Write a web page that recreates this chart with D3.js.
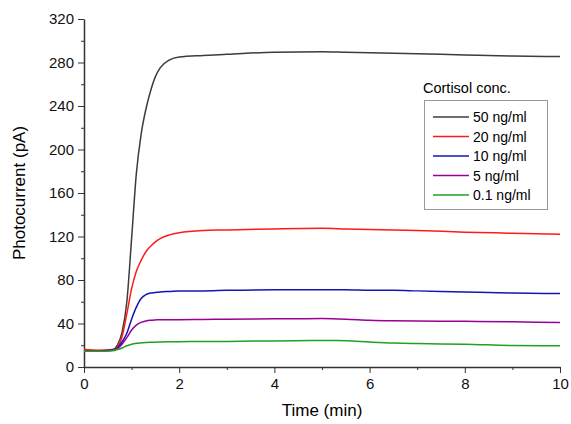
<!DOCTYPE html>
<html>
<head>
<meta charset="UTF-8">
<title>Photocurrent vs time</title>
<script src="https://cdnjs.cloudflare.com/ajax/libs/d3/7.8.5/d3.min.js"></script>
<style>
    body { margin: 0; background: #fff; font-family: "Liberation Sans", Arial, sans-serif; }
    .axis path, .axis line { stroke: #333; }
    .axis text { font-size: 15px; fill: #111; }
</style>
</head>
<body>
<div id="chart"></div>
<script>
// time points (min)
const times = [0, 0.3, 0.6, 0.7, 0.8, 0.9, 1.0, 1.1, 1.2, 1.3, 1.4, 1.5, 1.6, 1.8, 2.0, 2.5, 3, 4, 5, 5.5, 6, 6.5, 7, 8, 9, 10];

// photocurrent (pA) per cortisol concentration
const conc50  = [15, 15, 16, 20, 32, 60, 118, 178, 214, 237, 254, 267, 275, 282.5, 285, 286.5, 287.5, 289.5, 290, 289.5, 289, 288.5, 288, 287, 286, 285.5];
const conc20  = [16, 15.5, 15.5, 18, 28, 49, 72, 88, 98, 106, 111, 115, 118, 121.5, 123.5, 125.5, 126, 127, 127.5, 127, 126.5, 126, 125.5, 124, 123, 122];
const conc10  = [15, 15, 15.5, 17.5, 23, 31, 44, 55, 63, 66.5, 68, 68.5, 69, 69.5, 70, 70, 70.5, 71, 71, 71, 70.5, 70.5, 70, 69, 68, 67.5];
const conc5   = [15, 15, 15.5, 17, 21, 27, 34, 38.5, 41, 42.3, 43, 43.3, 43.5, 43.5, 43.5, 43.7, 44, 44.3, 44.5, 44, 43, 42.5, 42.3, 42, 41.5, 41];
const conc01  = [14.5, 14.5, 15, 16, 17.5, 19.5, 21, 21.8, 22.2, 22.5, 22.7, 22.8, 23, 23.2, 23.3, 23.4, 23.5, 24, 24.3, 24.2, 23, 22, 21.5, 21, 19.8, 19.5];

const seriesNames = ["50 ng/ml", "20 ng/ml", "10 ng/ml", "5 ng/ml", "0.1 ng/ml"];
const seriesValues = [conc50, conc20, conc10, conc5, conc01];
const seriesColors = ["#3c3c3c", "#ff1a1a", "#1414b4", "#990099", "#22a022"];

const xTicks = [0, 2, 4, 6, 8, 10];
const yTicks = [0, 40, 80, 120, 160, 200, 240, 280, 320];

const width = 571, height = 424;
const margin = { top: 19, right: 11, bottom: 57, left: 84 };

const svg = d3.select("#chart").append("svg")
    .attr("width", width)
    .attr("height", height);

const x = d3.scaleLinear().domain([0, 10]).range([margin.left, width - margin.right]);
const y = d3.scaleLinear().domain([0, 320]).range([height - margin.bottom, margin.top]);

// minor ticks first, then major
svg.append("g")
    .attr("class", "axis")
    .attr("transform", `translate(0,${height - margin.bottom})`)
    .call(d3.axisBottom(x).tickValues(d3.range(1, 10, 2)).tickSize(3).tickFormat(""))
    .call(g => g.select(".domain").remove());
svg.append("g")
    .attr("class", "axis")
    .attr("transform", `translate(${margin.left},0)`)
    .call(d3.axisLeft(y).tickValues(d3.range(20, 320, 40)).tickSize(3).tickFormat(""))
    .call(g => g.select(".domain").remove());

svg.append("g")
    .attr("class", "axis")
    .attr("transform", `translate(0,${height - margin.bottom})`)
    .call(d3.axisBottom(x).tickValues(xTicks).tickSize(6).tickSizeOuter(0).tickPadding(5))
    .call(g => g.select(".domain").attr("stroke-width", 1.5));

svg.append("g")
    .attr("class", "axis")
    .attr("transform", `translate(${margin.left},0)`)
    .call(d3.axisLeft(y).tickValues(yTicks).tickSize(6).tickSizeOuter(0).tickPadding(4))
    .call(g => g.select(".domain").attr("stroke-width", 1.5));

// lines
const line = d3.line()
    .x((d, i) => x(times[i]))
    .y(d => y(d))
    .curve(d3.curveMonotoneX);

svg.append("g")
    .selectAll("path")
    .data(seriesValues)
    .join("path")
    .attr("fill", "none")
    .attr("stroke", (d, i) => seriesColors[i])
    .attr("stroke-width", 1.5)
    .attr("d", line);

// axis titles
svg.append("text")
    .attr("x", (margin.left + width - margin.right) / 2)
    .attr("y", 416)
    .attr("text-anchor", "middle")
    .style("font-size", "17px")
    .text("Time (min)");

svg.append("text")
    .attr("transform", `translate(25,${(margin.top + height - margin.bottom) / 2}) rotate(-90)`)
    .attr("text-anchor", "middle")
    .style("font-size", "17px")
    .text("Photocurrent (pA)");

// legend
const legend = svg.append("g");
legend.append("text")
    .attr("x", 423)
    .attr("y", 93)
    .style("font-size", "14.5px")
    .text("Cortisol conc.");
legend.append("rect")
    .attr("x", 424.5)
    .attr("y", 100.5)
    .attr("width", 123)
    .attr("height", 109)
    .attr("fill", "#fff")
    .attr("stroke", "#999");

const rows = legend.selectAll("g.row")
    .data(seriesNames)
    .join("g")
    .attr("class", "row")
    .attr("transform", (d, i) => `translate(0,${117 + i * 19.5})`);
rows.append("line")
    .attr("x1", 433).attr("x2", 469)
    .attr("stroke", (d, i) => seriesColors[i])
    .attr("stroke-width", 1.5);
rows.append("text")
    .attr("x", 473)
    .attr("y", 5)
    .style("font-size", "14px")
    .text(d => d);
</script>
</body>
</html>
